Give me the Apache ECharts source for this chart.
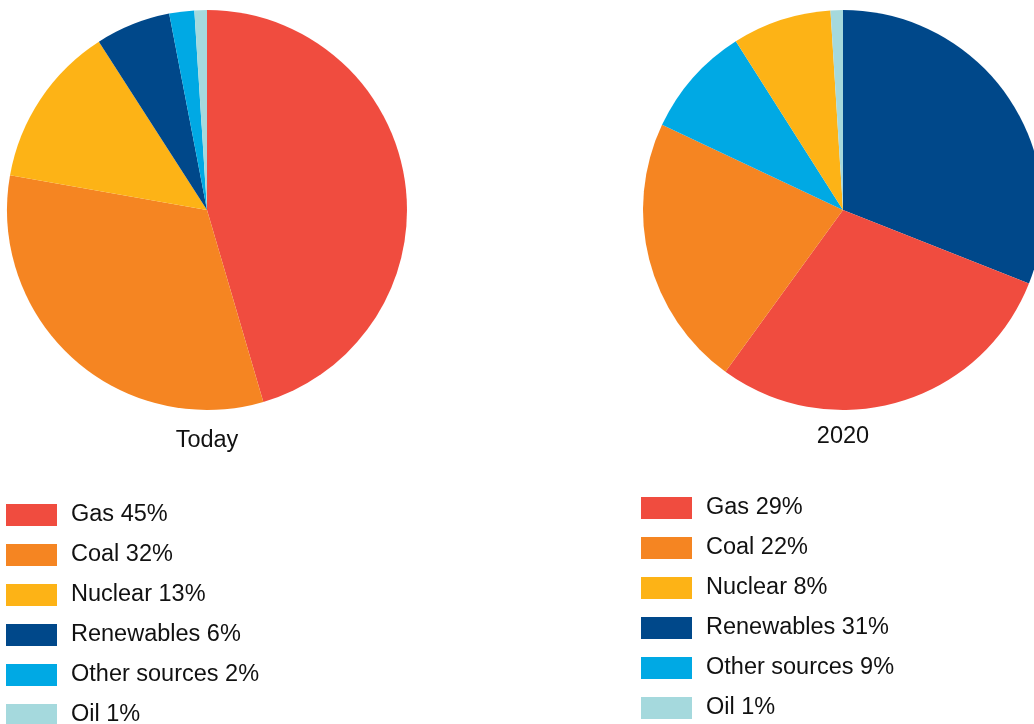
<!DOCTYPE html>
<html>
<head>
<meta charset="utf-8">
<script src="https://cdn.jsdelivr.net/npm/echarts@6/dist/echarts.min.js"></script>
<style>
html,body{margin:0;padding:0;background:#fff;}
#chart{width:1034px;height:724px;}
</style>
</head>
<body>
<div id="chart"></div>
<script>
// Data
const categories = ['Gas', 'Coal', 'Nuclear', 'Renewables', 'Other sources', 'Oil'];
const todayValues = [45, 32, 13, 6, 2, 1];
const future2020Values = [29, 22, 8, 31, 9, 1];
const todayOrder = ['Gas', 'Coal', 'Nuclear', 'Renewables', 'Other sources', 'Oil'];
const future2020Order = ['Renewables', 'Gas', 'Coal', 'Other sources', 'Nuclear', 'Oil'];
const pieTitles = ['Today', '2020'];

const colors = {
  'Gas': '#f04c3f',
  'Coal': '#f58522',
  'Nuclear': '#fdb316',
  'Renewables': '#00488a',
  'Other sources': '#00a9e4',
  'Oil': '#a5d9dd'
};

function label(cat, vals) { return cat + ' ' + vals[categories.indexOf(cat)] + '%'; }
function pieData(order, vals) {
  return order.map(c => ({ name: label(c, vals), value: vals[categories.indexOf(c)], itemStyle: { color: colors[c] } }));
}

const font = '"Liberation Sans", Arial, sans-serif';
const legendCommon = {
  orient: 'vertical',
  icon: 'rect',
  itemWidth: 51,
  itemHeight: 22,
  itemGap: 16,
  height: 260,
  selectedMode: false,
  textStyle: { fontFamily: font, fontSize: 23.5, color: '#111', padding: [7, 0, 0, 9], lineHeight: 15 },
  padding: 0
};

const chart = echarts.init(document.getElementById('chart'), null, { renderer: 'canvas' });
chart.setOption({
  animation: false,
  backgroundColor: '#fff',
  legend: [
    Object.assign({}, legendCommon, { left: 6, top: 503, data: categories.map(c => label(c, todayValues)) }),
    Object.assign({}, legendCommon, { left: 641, top: 496, data: categories.map(c => label(c, future2020Values)) })
  ],
  graphic: [
    { type: 'text', style: { text: pieTitles[0], x: 207, y: 441, textAlign: 'center', textVerticalAlign: 'middle', fontFamily: font, fontSize: 23.5, fill: '#111' } },
    { type: 'text', style: { text: pieTitles[1], x: 843, y: 437, textAlign: 'center', textVerticalAlign: 'middle', fontFamily: font, fontSize: 23.5, fill: '#111' } }
  ],
  series: [
    {
      type: 'pie', center: [207, 210], radius: 200, startAngle: 90, clockwise: true,
      label: { show: false }, labelLine: { show: false }, emphasis: { disabled: true },
      silent: true,
      data: pieData(todayOrder, todayValues)
    },
    {
      type: 'pie', center: [843, 210], radius: 200, startAngle: 90, clockwise: true,
      label: { show: false }, labelLine: { show: false }, emphasis: { disabled: true },
      silent: true,
      data: pieData(future2020Order, future2020Values)
    }
  ]
});
</script>
</body>
</html>
